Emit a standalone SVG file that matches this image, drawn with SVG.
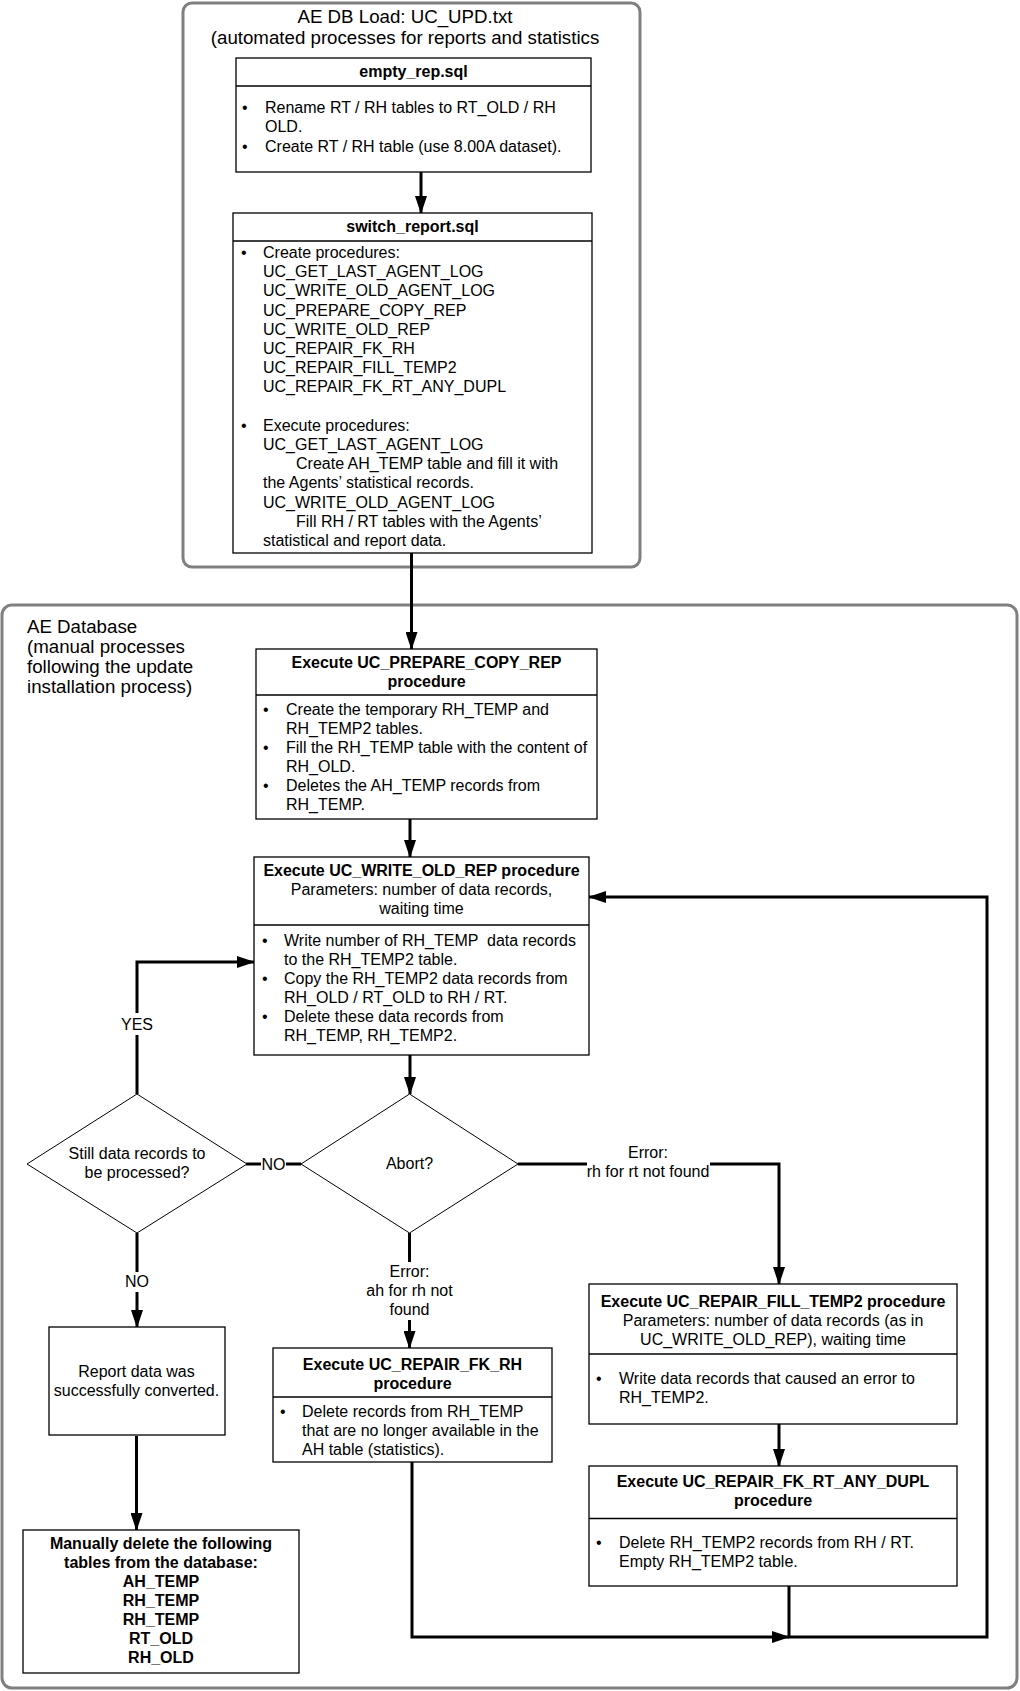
<svg xmlns="http://www.w3.org/2000/svg" width="1020" height="1691" viewBox="0 0 1020 1691">
<style>
.t{font-family:"Liberation Sans",Arial,sans-serif;font-size:16px;fill:#000}
.h{font-size:18.7px}
.b{font-weight:bold}
.c{text-anchor:middle}
.box{fill:#fff;stroke:#000;stroke-width:1.3}
.dia{fill:#fff;stroke:#000;stroke-width:1}
.cont{fill:none;stroke:#808080;stroke-width:3}
.conn{fill:none;stroke:#000;stroke-width:3}
.lbg{fill:#fff;stroke:none}
</style>
<defs>
<marker id="ah" markerUnits="userSpaceOnUse" markerWidth="18" markerHeight="12" refX="17" refY="6" orient="auto">
<path d="M0,0 L18,6 L0,12 Z" fill="#000"/>
</marker>
</defs>
<rect width="1020" height="1691" fill="#fff"/>

<g id="container-load">
<rect class="cont" x="183" y="3" width="457" height="564" rx="9"/>
<text class="t h c" x="405" y="23">AE DB Load: UC_UPD.txt</text>
<text class="t h c" x="405" y="44">(automated processes for reports and statistics</text>
</g>
<g id="container-db">
<rect class="cont" x="2" y="605" width="1015" height="1083" rx="10"/>
<text class="t h" x="27" y="633">AE Database</text>
<text class="t h" x="27" y="653">(manual processes</text>
<text class="t h" x="27" y="673">following the update</text>
<text class="t h" x="27" y="693">installation process)</text>
</g>

<g id="connectors">
<path class="conn" d="M421,172 V213" marker-end="url(#ah)"/>
<path class="conn" d="M411.5,553 V649" marker-end="url(#ah)"/>
<path class="conn" d="M410,819 V857" marker-end="url(#ah)"/>
<path class="conn" d="M410,1055 V1094" marker-end="url(#ah)"/>
<path class="conn" d="M137,1094 V962 H254" marker-end="url(#ah)"/>
<path class="conn" d="M301,1164 H246"/>
<path class="conn" d="M137,1233 V1327" marker-end="url(#ah)"/>
<path class="conn" d="M136.5,1436 V1530" marker-end="url(#ah)"/>
<path class="conn" d="M409.5,1233 V1348" marker-end="url(#ah)"/>
<path class="conn" d="M518,1164 H779 V1284" marker-end="url(#ah)"/>
<path class="conn" d="M779,1424 V1466" marker-end="url(#ah)"/>
<path class="conn" d="M412,1462 V1637 H789" marker-end="url(#ah)"/>
<path class="conn" d="M789,1586 V1637 H987 V897 H589" marker-end="url(#ah)"/>
<rect class="lbg" x="120" y="1013" width="34" height="22"/>
<text class="t c" x="137" y="1030">YES</text>
<rect class="lbg" x="261" y="1152" width="25" height="22"/>
<text class="t c" x="273.5" y="1170">NO</text>
<rect class="lbg" x="124" y="1272" width="26" height="20"/>
<text class="t c" x="137" y="1287">NO</text>
<rect class="lbg" x="360" y="1262" width="100" height="58"/>
<text class="t c" x="409.5" y="1277">Error:</text>
<text class="t c" x="409.5" y="1296">ah for rh not</text>
<text class="t c" x="409.5" y="1315">found</text>
<rect class="lbg" x="587" y="1143" width="123" height="40"/>
<text class="t c" x="648" y="1158">Error:</text>
<text class="t c" x="648" y="1177">rh for rt not found</text>
</g>

<g id="empty_rep">
<rect class="box" x="236" y="58" width="355" height="114"/>
<line class="box" x1="236" y1="86" x2="591" y2="86"/>
<text class="t b c" x="413.5" y="77">empty_rep.sql</text>
<text class="t" x="242" y="113">•</text>
<text class="t" x="265" y="113">Rename RT / RH tables to RT_OLD / RH</text>
<text class="t" x="265" y="132">OLD.</text>
<text class="t" x="242" y="152">•</text>
<text class="t" x="265" y="152">Create RT / RH table (use 8.00A dataset).</text>
</g>

<g id="switch_report">
<rect class="box" x="233" y="213" width="359" height="340"/>
<line class="box" x1="233" y1="241" x2="592" y2="241"/>
<text class="t b c" x="412.5" y="232">switch_report.sql</text>
<text class="t" x="241" y="258">•</text>
<text class="t" x="263" y="258">Create procedures:</text>
<text class="t" x="263" y="277.2">UC_GET_LAST_AGENT_LOG</text>
<text class="t" x="263" y="296.4">UC_WRITE_OLD_AGENT_LOG</text>
<text class="t" x="263" y="315.6">UC_PREPARE_COPY_REP</text>
<text class="t" x="263" y="334.8">UC_WRITE_OLD_REP</text>
<text class="t" x="263" y="354">UC_REPAIR_FK_RH</text>
<text class="t" x="263" y="373.2">UC_REPAIR_FILL_TEMP2</text>
<text class="t" x="263" y="392.4">UC_REPAIR_FK_RT_ANY_DUPL</text>
<text class="t" x="241" y="430.8">•</text>
<text class="t" x="263" y="430.8">Execute procedures:</text>
<text class="t" x="263" y="450">UC_GET_LAST_AGENT_LOG</text>
<text class="t" x="296" y="469.2">Create AH_TEMP table and fill it with</text>
<text class="t" x="263" y="488.4">the Agents’ statistical records.</text>
<text class="t" x="263" y="507.6">UC_WRITE_OLD_AGENT_LOG</text>
<text class="t" x="296" y="526.8">Fill RH / RT tables with the Agents’</text>
<text class="t" x="263" y="546">statistical and report data.</text>
</g>

<g id="prepare_copy_rep">
<rect class="box" x="256" y="649" width="341" height="170"/>
<line class="box" x1="256" y1="695" x2="597" y2="695"/>
<text class="t b c" x="426.5" y="668">Execute UC_PREPARE_COPY_REP</text>
<text class="t b c" x="426.5" y="687">procedure</text>
<text class="t" x="263" y="715">•</text>
<text class="t" x="286" y="715">Create the temporary RH_TEMP and</text>
<text class="t" x="286" y="734">RH_TEMP2 tables.</text>
<text class="t" x="263" y="753">•</text>
<text class="t" x="286" y="753">Fill the RH_TEMP table with the content of</text>
<text class="t" x="286" y="772">RH_OLD.</text>
<text class="t" x="263" y="791">•</text>
<text class="t" x="286" y="791">Deletes the AH_TEMP records from</text>
<text class="t" x="286" y="810">RH_TEMP.</text>
</g>

<g id="write_old_rep">
<rect class="box" x="254" y="857" width="335" height="198"/>
<line class="box" x1="254" y1="925" x2="589" y2="925"/>
<text class="t b c" x="421.5" y="876">Execute UC_WRITE_OLD_REP procedure</text>
<text class="t c" x="421.5" y="895">Parameters: number of data records,</text>
<text class="t c" x="421.5" y="914">waiting time</text>
<text class="t" x="262" y="946">•</text>
<text class="t" x="284" y="946" xml:space="preserve">Write number of RH_TEMP  data records</text>
<text class="t" x="284" y="965">to the RH_TEMP2 table.</text>
<text class="t" x="262" y="984">•</text>
<text class="t" x="284" y="984">Copy the RH_TEMP2 data records from</text>
<text class="t" x="284" y="1003">RH_OLD / RT_OLD to RH / RT.</text>
<text class="t" x="262" y="1022">•</text>
<text class="t" x="284" y="1022">Delete these data records from</text>
<text class="t" x="284" y="1041">RH_TEMP, RH_TEMP2.</text>
</g>

<g id="still_records">
<polygon class="dia" points="137,1094 247,1164 137,1233 27,1164"/>
<text class="t c" x="137" y="1159">Still data records to</text>
<text class="t c" x="137" y="1178">be processed?</text>
</g>

<g id="abort">
<polygon class="dia" points="409.5,1094 518,1164 409.5,1233 301,1164"/>
<text class="t c" x="409.5" y="1169">Abort?</text>
</g>

<g id="report_converted">
<rect class="box" x="49" y="1327" width="176" height="108"/>
<text class="t c" x="136.5" y="1377">Report data was</text>
<text class="t c" x="136.5" y="1396">successfully converted.</text>
</g>

<g id="manual_delete">
<rect class="box" x="23" y="1530" width="276" height="143"/>
<text class="t b c" x="161" y="1549">Manually delete the following</text>
<text class="t b c" x="161" y="1568">tables from the database:</text>
<text class="t b c" x="161" y="1587">AH_TEMP</text>
<text class="t b c" x="161" y="1606">RH_TEMP</text>
<text class="t b c" x="161" y="1625">RH_TEMP</text>
<text class="t b c" x="161" y="1644">RT_OLD</text>
<text class="t b c" x="161" y="1663">RH_OLD</text>
</g>

<g id="repair_fk_rh">
<rect class="box" x="273" y="1348" width="279" height="114"/>
<line class="box" x1="273" y1="1397" x2="552" y2="1397"/>
<text class="t b c" x="412.5" y="1370">Execute UC_REPAIR_FK_RH</text>
<text class="t b c" x="412.5" y="1389">procedure</text>
<text class="t" x="280" y="1417">•</text>
<text class="t" x="302" y="1417">Delete records from RH_TEMP</text>
<text class="t" x="302" y="1436">that are no longer available in the</text>
<text class="t" x="302" y="1455">AH table (statistics).</text>
</g>

<g id="repair_fill_temp2">
<rect class="box" x="589" y="1284" width="368" height="140"/>
<line class="box" x1="589" y1="1354" x2="957" y2="1354"/>
<text class="t b c" x="773" y="1306.5">Execute UC_REPAIR_FILL_TEMP2 procedure</text>
<text class="t c" x="773" y="1326">Parameters: number of data records (as in</text>
<text class="t c" x="773" y="1345">UC_WRITE_OLD_REP), waiting time</text>
<text class="t" x="596" y="1384">•</text>
<text class="t" x="619" y="1384">Write data records that caused an error to</text>
<text class="t" x="619" y="1403">RH_TEMP2.</text>
</g>

<g id="repair_fk_rt_any_dupl">
<rect class="box" x="589" y="1466" width="368" height="120"/>
<line class="box" x1="589" y1="1518.5" x2="957" y2="1518.5"/>
<text class="t b c" x="773" y="1487">Execute UC_REPAIR_FK_RT_ANY_DUPL</text>
<text class="t b c" x="773" y="1505.5">procedure</text>
<text class="t" x="596" y="1547.5">•</text>
<text class="t" x="619" y="1547.5">Delete RH_TEMP2 records from RH / RT.</text>
<text class="t" x="619" y="1566.5">Empty RH_TEMP2 table.</text>
</g>
</svg>
